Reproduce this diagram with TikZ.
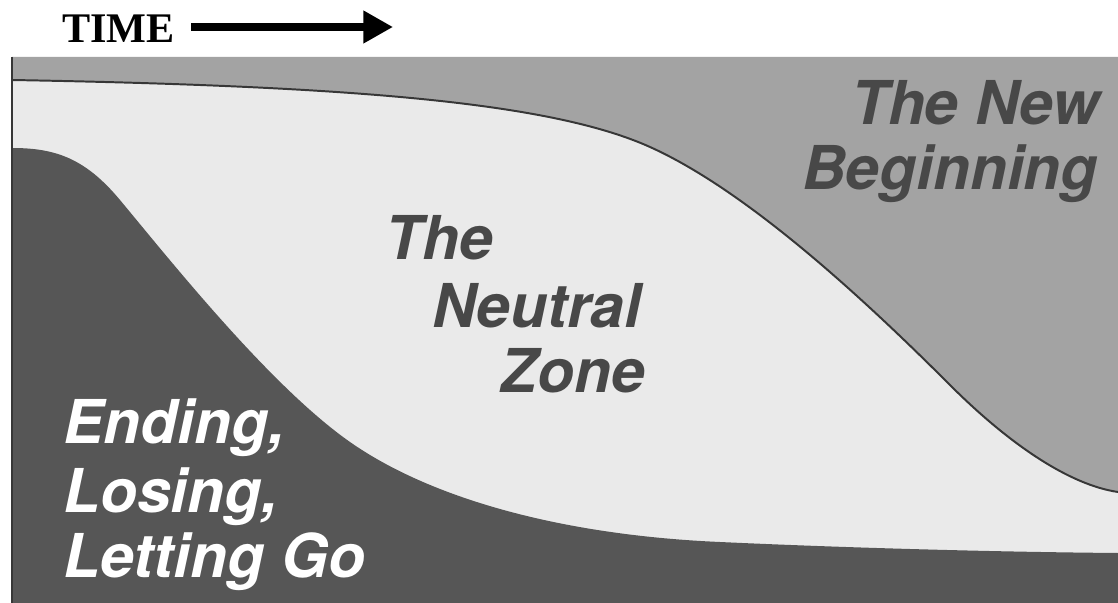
\documentclass[tikz,border=0pt]{standalone}
\usepackage{fontspec}
\setsansfont{TeX Gyre Heros}
\newfontfamily\timefont{Liberation Serif}
\usetikzlibrary{arrows.meta}
\definecolor{zonelight}{RGB}{234, 234, 234}
\definecolor{zonemid}{RGB}{163, 163, 163}
\definecolor{zonedark}{RGB}{86, 86, 86}
\definecolor{textgrey}{RGB}{72, 72, 72}
\definecolor{edgedark}{RGB}{55, 55, 55}

\begin{document}
\begin{tikzpicture}[
    x=0.025cm, y=-0.025cm,
    phase/.style={font=\fontsize{43}{50}\selectfont\sffamily\bfseries\itshape, inner sep=0pt, color=textgrey},
    ending/.style={phase, color=white, anchor=base west},
    timelabel/.style={font=\fontsize{30}{33}\selectfont\timefont\bfseries, inner sep=0pt, anchor=base west},
    timearrow/.style={-{Triangle[length=21pt, width=22pt]}, line width=5pt, color=black}
]
\useasboundingbox (0,0) rectangle (1118,603);

% Time Axis
\node[timelabel] (time) at (62,43) {TIME};
\coordinate (timeend) at (393,27);
\draw[timearrow] (time.east |- timeend) ++(16,0) -- (timeend);

% Neutral Zone (background)
\fill[zonelight] (12,57) rectangle (1118,603);

% New Beginning Region
\fill[zonemid] (12,80) .. controls (350,86) and (550,102) .. (650,147)
    .. controls (750,192) and (870,305) .. (950,385)
    .. controls (1010,445) and (1070,485) .. (1118,492)
    -- (1118,57) -- (12,57) -- cycle;
\draw[edgedark, line width=1.4pt] (12,80) .. controls (350,86) and (550,102) .. (650,147)
    .. controls (750,192) and (870,305) .. (950,385)
    .. controls (1010,445) and (1070,485) .. (1118,492);

% Ending Region
\fill[zonedark] (12,148) .. controls (55,148) and (85,158) .. (120,200)
    .. controls (170,260) and (270,386) .. (350,442)
    .. controls (430,498) and (560,535) .. (720,542)
    .. controls (850,548) and (1000,552) .. (1118,553)
    -- (1118,603) -- (12,603) -- cycle;

% Frame
\draw[edgedark, line width=1.2pt] (12,57) -- (12,603);

% Labels
\node[phase, anchor=base east] (newtop) at (1100,125) {The New};
\node[phase, anchor=base east] (newbottom) at (1098,190) {Beginning};

\node[phase, anchor=base west] (neutralthe) at (385,260) {The};
\node[phase, anchor=base west] (neutralmid) at (432,327) {Neutral};
\node[phase, anchor=base west] (neutralzone) at (500,392) {Zone};

\node[ending] (endone) at (63,443) {Ending,};
\node[ending] (endtwo) at (63,512) {Losing,};
\node[ending] (endthree) at (63,577) {Letting Go};

\end{tikzpicture}
\end{document}
